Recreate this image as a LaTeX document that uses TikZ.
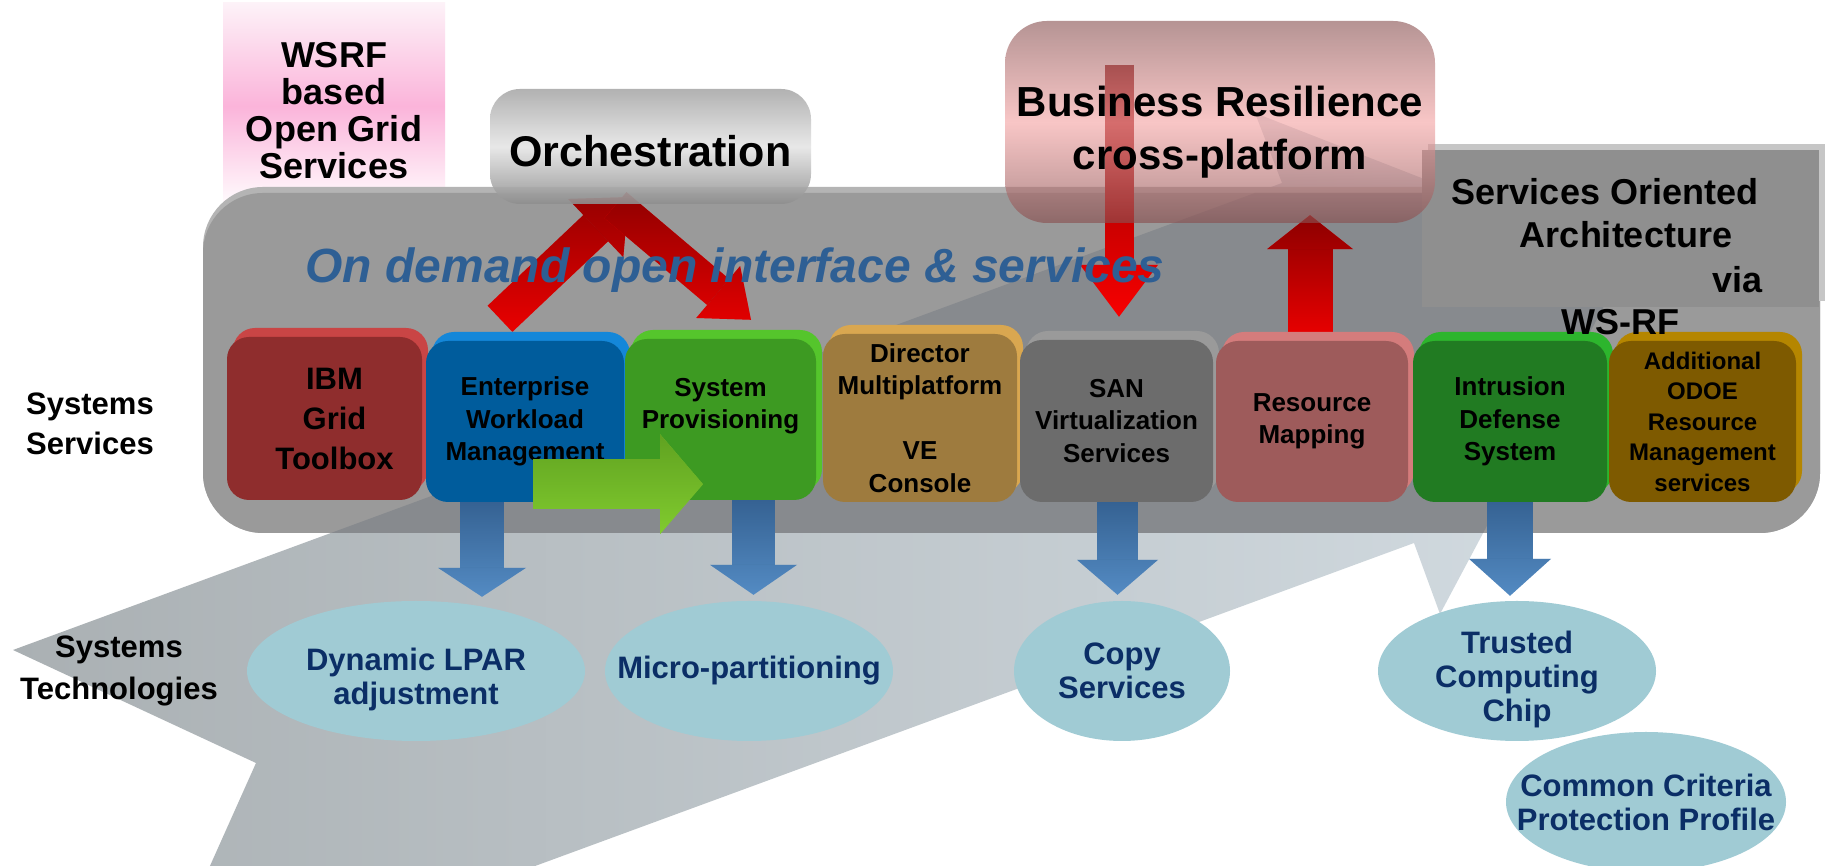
\documentclass[tikz,border=0pt]{standalone}
\usepackage{fontspec}
\setmainfont{Liberation Sans}
\usetikzlibrary{positioning}
\usetikzlibrary{calc}
\usetikzlibrary{shapes.geometric}
\usetikzlibrary{shadows}
\usetikzlibrary{fadings}
\usetikzlibrary{arrows.meta}

\definecolor{bigleft}{HTML}{AAB0B3}
\definecolor{bigright}{HTML}{D3DCE2}
\definecolor{panelgray}{HTML}{9A9A9A}
\definecolor{panelrim}{HTML}{B4B4B4}
\definecolor{paneldark}{HTML}{878A8E}
\definecolor{soagray}{HTML}{8F8F8F}
\definecolor{soalight}{HTML}{C6C6C6}
\definecolor{wsrftop}{HTML}{FDF2F8}
\definecolor{wsrfpink}{HTML}{FBB4DA}
\definecolor{orchtop}{HTML}{AAAAAA}
\definecolor{orchmid}{HTML}{E6E6E6}
\definecolor{orchbot}{HTML}{8E8E8E}
\definecolor{brtop}{HTML}{8F5B5B}
\definecolor{brmid}{HTML}{F5A8A8}
\definecolor{brbot}{HTML}{895050}
\definecolor{demandblue}{HTML}{2E5F94}
\definecolor{techfill}{HTML}{A0CBD4}
\definecolor{technavy}{HTML}{0B2E66}
\definecolor{bluelight}{HTML}{5B95CF}
\definecolor{bluedark}{HTML}{2F5988}
\definecolor{redlight}{HTML}{FF0000}
\definecolor{reddark}{HTML}{7A0000}
\definecolor{greenlight}{HTML}{8AD632}
\definecolor{greendark}{HTML}{58981E}
\definecolor{ibmred}{HTML}{8F2D2D}
\definecolor{ibmlight}{HTML}{C94545}
\definecolor{ewmblue}{HTML}{005C9C}
\definecolor{ewmlight}{HTML}{1487D9}
\definecolor{spgreen}{HTML}{3D9A22}
\definecolor{splight}{HTML}{55C52C}
\definecolor{dirgold}{HTML}{9E7B3E}
\definecolor{dirlight}{HTML}{D9A750}
\definecolor{sangray}{HTML}{6C6C6C}
\definecolor{sanlight}{HTML}{9A9A9A}
\definecolor{rmrose}{HTML}{9E5B5B}
\definecolor{rmlight}{HTML}{D47C7C}
\definecolor{idsgreen}{HTML}{217B22}
\definecolor{idslight}{HTML}{2DB52D}
\definecolor{addbrown}{HTML}{7E5A00}
\definecolor{addlight}{HTML}{B58600}

\tikzfading[name=fadetop, top color=transparent!0, bottom color=transparent!100]

\pgfdeclarelayer{background}
\pgfdeclarelayer{arrows}
\pgfsetlayers{background,arrows,main}

\tikzset{
  svc/.style={rounded corners=22pt, inner sep=0pt, align=center,
    minimum height=161pt, font=\bfseries\fontsize{26}{32.5}\selectfont},
  bevel/.style={general shadow={fill=#1, shadow xshift=6pt, shadow yshift=9pt}},
  tech/.style={ellipse, fill=techfill, text=technavy, align=center,
    inner xsep=-40pt, inner ysep=-10pt, minimum height=140pt,
    font=\bfseries\fontsize{31}{34}\selectfont},
  lbl/.style={align=center, font=\bfseries\fontsize{31}{40}\selectfont},
  soatxt/.style={inner sep=0pt, font=\bfseries\fontsize{36}{40}\selectfont},
  fat/.style n args={3}{line width=#1pt,
    -{Triangle[length=#2pt,width=#3pt,line width=0pt]}},
  grad/.style 2 args={draw=#1, postaction={draw=#2, path fading=fadetop}}
}

\begin{document}
\begin{tikzpicture}[x=1pt,y=1pt]
  \useasboundingbox (0,0) rectangle (1825,866);

  \begin{pgfonlayer}{background}
    \fill[white] (0,0) rectangle (1825,866);
    \node [minimum width=222pt,minimum height=206pt,top color=wsrftop,bottom color=white,
      middle color=wsrfpink,align=center,font=\bfseries\fontsize{36}{37}\selectfont]
      (wsrf) at (334,760) {\rule{0pt}{34pt}WSRF\\based\\Open Grid\\Services};
    % big notched arrow behind everything
    \shade[left color=bigleft,right color=bigright]
      (13,216) -- (1282,683) -- (1255,753) -- (1629,607) -- (1440,252)
      -- (1414,323) -- (146,-143) -- (256,103) -- cycle;
    \fill[panelrim,rounded corners=60pt] (203,333) rectangle (1820,679);
    \fill[panelgray,rounded corners=60pt] (203,333) rectangle (1820,673);
    \begin{scope}
      \clip[rounded corners=60pt] (203,333) rectangle (1820,673);
      \fill[paneldark] (13,216) -- (1282,683) -- (1255,753) -- (1629,607) -- (1440,252)
        -- (1414,323) -- (146,-143) -- (256,103) -- cycle;
    \end{scope}
    \node [fill=soagray,minimum width=397pt,minimum height=157pt,inner sep=0pt,
      general shadow={fill=soalight,shadow xshift=6pt,shadow yshift=6pt}]
      (soa) at (1620.5,637.5) {};
  \end{pgfonlayer}

  \node [rounded corners=30pt,minimum width=321pt,minimum height=115pt,
    top color=orchtop,bottom color=orchbot,middle color=orchmid,
    fill opacity=0.9,text opacity=1,font=\bfseries\fontsize{43}{50}\selectfont]
    (orch) at (650.5,719.5) {\rule{0pt}{40pt}Orchestration};
  \node [rounded corners=42pt,minimum width=430pt,minimum height=202pt,
    top color=brtop,bottom color=brbot,middle color=brmid,
    fill opacity=0.65,text opacity=1,align=center,font=\bfseries\fontsize{42}{53}\selectfont]
    (br) at (1220,744) {\rule{0pt}{51pt}Business Resilience\\cross-platform};

  \node [text=demandblue,font=\bfseries\itshape\fontsize{48}{54}\selectfont]
    (demand) at (735,596) {On demand open interface \& services};

  \node [lbl] (sysserv) at (90,442) {Systems\\Services};
  \node [lbl,font=\bfseries\fontsize{31}{42}\selectfont] (systech) at (119,195) {Systems\\Technologies};

  % systems services
  \node [svc,fill=ibmred,bevel=ibmlight,minimum width=195pt,minimum height=163pt,
    font=\bfseries\fontsize{31}{40}\selectfont] (ibm) at (324.5,447.5)
    {\hspace*{20pt}IBM\\\hspace*{20pt}Grid\\\hspace*{20pt}Toolbox};
  \node [svc,fill=ewmblue,bevel=ewmlight,minimum width=198pt]
    (ewm) at (525,444.5) {Enterprise\\Workload\\Management};
  \node [svc,fill=spgreen,bevel=splight,minimum width=191pt]
    (sp) at (720.5,446.5) {System\\Provisioning\\~};
  \node [svc,fill=dirgold,bevel=dirlight,minimum width=194pt,minimum height=168pt]
    (dir) at (920,448) {Director\\Multiplatform\\~\\VE\\Console};
  \node [svc,fill=sangray,bevel=sanlight,minimum width=193pt,minimum height=162pt]
    (san) at (1116.5,445) {SAN\\Virtualization\\Services};
  \node [svc,fill=rmrose,bevel=rmlight,minimum width=192pt]
    (rm) at (1312,444.5) {Resource\\Mapping};
  \node [svc,fill=idsgreen,bevel=idslight,minimum width=194pt]
    (ids) at (1510,444.5) {Intrusion\\Defense\\System};
  \node [svc,fill=addbrown,bevel=addlight,minimum width=187pt,
    font=\bfseries\fontsize{24}{30.5}\selectfont]
    (add) at (1702.5,444.5) {Additional\\ODOE\\Resource\\Management\\services};

  \node [soatxt] (soa1) at (1605,674) {Services Oriented};
  \node [soatxt] (soa2) at (1626,631) {Architecture};
  \node [soatxt] (soa3) at (1737,586) {via};
  \node [soatxt] (soa4) at (1620,544) {WS-RF};

  % systems technologies
  \node [tech,minimum width=338pt] (dyn)   at (416,195)  {\rule{0pt}{40pt}Dynamic LPAR\\adjustment};
  \node [tech,minimum width=288pt] (micro) at (749,195)  {Micro-partitioning};
  \node [tech,minimum width=216pt] (copy)  at (1122,195) {Copy\\Services};
  \node [tech,minimum width=278pt] (tcc)   at (1517,195) {\rule{0pt}{40pt}Trusted\\Computing\\Chip};
  \node [tech,minimum width=280pt] (ccpp)  at (1646,64)  {Common Criteria\\Protection Profile};

  % the first two points of each arrow only widen the box the fading is fitted to
  \begin{pgfonlayer}{arrows}
    \draw [grad={redlight}{reddark},fat={36}{45}{80}]
      ($(ewm.north)+(-55,-8)$) ($(orch.south)+(8,37)$)
      ($(ewm.north)+(-25,22)$) -- ($(orch.south)+(-22,7)$);
    \draw [grad={redlight}{reddark},fat={34}{43}{68}]
      ($(orch.south)+(-65,29)$) ($(sp.north)+(60,-11)$)
      ($(orch.south)+(-35,-1)$) -- ($(sp.north)+(30.5,19)$);
    \draw [grad={redlight}{reddark},fat={29}{52}{78}]
      ($(br.center)+(-151,57)$) ($(san.north)+(52.5,23)$)
      ($(br.center)+(-101,57)$) -- ($(san.north)+(2.5,23)$);
    \draw [grad={redlight}{reddark},fat={45}{34}{86}]
      ($(rm.north)+(-52,0)$) ($(br.south)+(140,8)$)
      ($(rm.north)+(-2,0)$) -- ($(br.south)+(90,8)$);
  \end{pgfonlayer}

  \draw [grad={bluelight}{bluedark},fat={44}{29}{88}]
    ($(ewm.south)+(-93,0)$) ($(dyn.north)+(116,4)$)
    ($(ewm.south)+(-43,0)$) -- ($(dyn.north)+(66,4)$);
  \draw [grad={bluelight}{bluedark},fat={43}{30}{87}]
    ($(sp.south)+(-17,0)$) ($(micro.north)+(54.5,6)$)
    ($(sp.south)+(33,0)$) -- ($(micro.north)+(4.5,6)$);
  \draw [grad={bluelight}{bluedark},fat={41}{35}{81}]
    ($(san.south)+(-49,0)$) ($(copy.north)+(45.5,6)$)
    ($(san.south)+(1,0)$) -- ($(copy.north)+(-4.5,6)$);
  \draw [grad={bluelight}{bluedark},fat={46}{37}{82}]
    ($(ids.south)+(-50,0)$) ($(tcc.north)+(43,5)$)
    (ids.south) -- ($(tcc.north)+(-7,5)$);
  \draw [grad={greenlight}{greendark},fat={50}{43}{100}]
    ($(ewm.south)+(8,68)$) ($(sp.south)+(-17.5,-34)$)
    ($(ewm.south)+(8,18)$) -- ($(sp.south)+(-17.5,16)$);
\end{tikzpicture}
\end{document}
